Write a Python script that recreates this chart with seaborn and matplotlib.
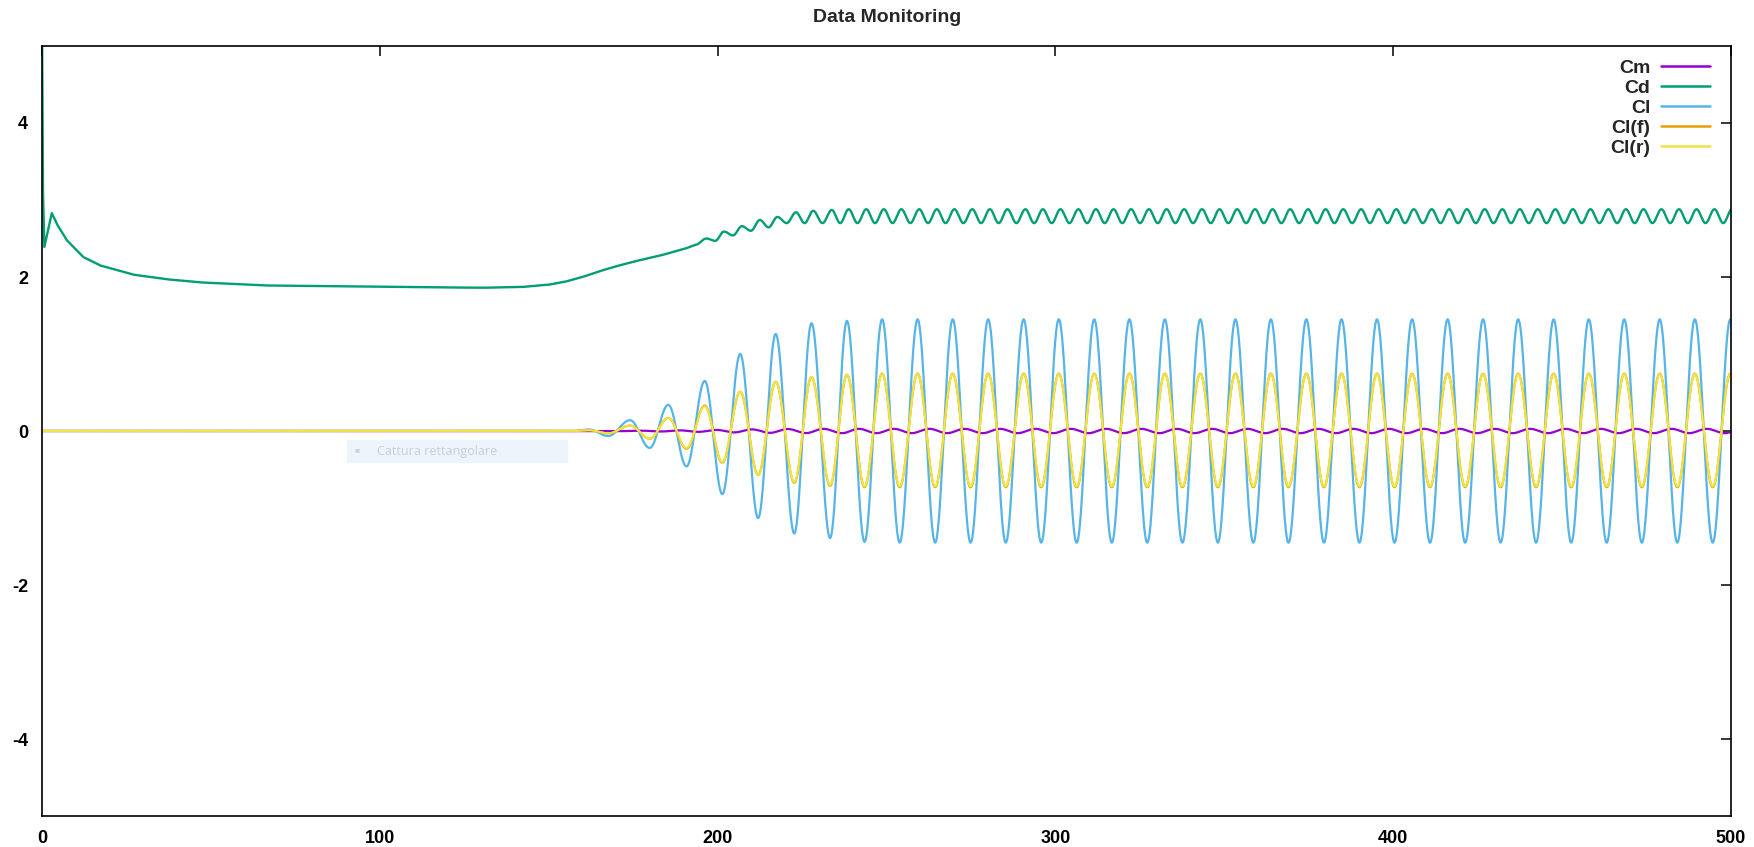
import numpy as np
import pandas as pd
import matplotlib
matplotlib.use("Agg")
import matplotlib.pyplot as plt
from matplotlib.lines import Line2D
from matplotlib.patches import Rectangle
import seaborn as sns

# ---------------- data ----------------
series_names = ["Cm", "Cd", "Cl", "Cl(f)", "Cl(r)"]
series_colors = ["#9400D3", "#009E73", "#56B4E9", "#E69F00", "#F0E442"]

x_ticks = [0, 100, 200, 300, 400, 500]
y_ticks = [-4, -2, 0, 2, 4]

# Cl extrema (time, value): growth phase then saturated oscillation
cl_t = [0.0, 157.0, 162.0, 167.6, 174.1, 179.9, 185.4, 190.8, 196.2, 201.4, 206.7,
        212.0, 217.2, 222.7, 227.8, 233.3, 238.3, 243.5,
        248.7, 253.9, 259.2, 264.4, 269.6, 274.9, 280.1, 285.3, 290.6, 295.8,
        301.0, 306.3, 311.5, 316.7, 321.9, 327.2, 332.4, 337.6, 342.9, 348.1,
        353.3, 358.6, 363.8, 369.0, 374.3, 379.5, 384.7, 390.0, 395.2, 400.4,
        405.6, 410.9, 416.1, 421.3, 426.6, 431.8, 437.0, 442.3, 447.5, 452.7,
        457.9, 463.2, 468.4, 473.6, 478.9, 484.1, 489.3, 494.6, 499.8]
cl_v = [0.0, 0.0, 0.02, -0.065, 0.14, -0.22, 0.34, -0.46, 0.65, -0.82, 1.00,
        -1.13, 1.26, -1.33, 1.40, -1.39, 1.43, -1.44] + [1.45, -1.45] * 24 + [1.45]

clr_v = [0.0, 0.0, 0.01, -0.03, 0.07, -0.10, 0.17, -0.22, 0.32, -0.40, 0.51,
         -0.57, 0.64, -0.66, 0.70, -0.70, 0.73, -0.72] + [0.74, -0.72] * 24 + [0.74]
clf_v = [0.0, 0.0, 0.01, -0.03, 0.07, -0.10, 0.17, -0.23, 0.33, -0.41, 0.51,
         -0.57, 0.64, -0.67, 0.70, -0.71, 0.73, -0.73] + [0.745, -0.73] * 24 + [0.745]

# Cm: small oscillation, lagging Cl extrema
cm_lag = 3.5
cm_v = [0.0, 0.0, 0.0, -0.002, 0.004, -0.006, 0.008, -0.011, 0.014, -0.018, 0.021,
        -0.024, 0.026, -0.027, 0.028, -0.028, 0.028, -0.028] + [0.028, -0.028] * 24 + [0.028]

# Cd: slow part
cd_base_t = [0.0, 0.3, 0.7, 2.9, 4.5, 7.3, 12.2, 17.2, 27.1, 37.0, 46.8, 66.0,
             100.0, 130.0, 142.0, 150.0, 155.0, 160.0, 165.4, 170.0, 175.2, 180.0,
             184.0, 187.1, 190.5, 193.5]
cd_base_v = [5.3, 3.1, 2.39, 2.83, 2.68, 2.48, 2.26, 2.15, 2.03, 1.97, 1.93, 1.89,
             1.875, 1.86, 1.87, 1.90, 1.94, 2.00, 2.08, 2.14, 2.20, 2.25,
             2.29, 2.33, 2.37, 2.42]
# Cd ripple (twice the Cl frequency): peaks near each Cl extremum from t=196
cd_lag = 0.5
cd_peak_v = [2.50, 2.59, 2.66, 2.74, 2.78, 2.84, 2.86, 2.87, 2.88, 2.88] + [2.88] * 49
cd_trough_v = [2.47, 2.54, 2.60, 2.645, 2.70, 2.70, 2.70, 2.70, 2.70, 2.70] + [2.70] * 48


# ---------------- build curves ----------------
def through_extrema(tn, vn, grid):
    tn = np.asarray(tn, float)
    vn = np.asarray(vn, float)
    idx = np.clip(np.searchsorted(tn, grid, side="right") - 1, 0, len(tn) - 2)
    frac = np.clip((grid - tn[idx]) / (tn[idx + 1] - tn[idx]), 0, 1)
    w = (1 - np.cos(np.pi * frac)) / 2
    return vn[idx] + (vn[idx + 1] - vn[idx]) * w


t = np.linspace(0, 500, 10001)
cl_t_arr = np.array(cl_t)

cl = through_extrema(cl_t, cl_v, t)
clr = through_extrema(cl_t, clr_v, t)
clf = through_extrema(cl_t, clf_v, t)
cm_nodes = np.concatenate([[0.0, 150.0], cl_t_arr[2:] + cm_lag])
cm = through_extrema(cm_nodes, [0.0] + cm_v[1:], t)

osc_ext = cl_t_arr[cl_t_arr >= 196.0]
osc_t, osc_v = [cd_base_t[-1]], [cd_base_v[-1]]
for i, te in enumerate(osc_ext):
    osc_t.append(te + cd_lag)
    osc_v.append(cd_peak_v[i])
    if i < len(osc_ext) - 1:
        osc_t.append((te + osc_ext[i + 1]) / 2 + cd_lag)
        osc_v.append(cd_trough_v[i])
cd = np.where(t <= cd_base_t[-1], np.interp(t, cd_base_t, cd_base_v),
              through_extrema(osc_t, osc_v, t))

curves = {"Cm": cm, "Cd": cd, "Cl": cl, "Cl(f)": clf, "Cl(r)": clr}
df = pd.concat([pd.DataFrame({"t": t, "value": curves[n], "series": n}) for n in series_names],
               ignore_index=True)

# ---------------- plot ----------------
sns.set_style("white")
plt.rcParams["font.family"] = ["Liberation Sans", "DejaVu Sans"]
plt.rcParams["axes.unicode_minus"] = False

W, H = 1754, 847
fig = plt.figure(figsize=(W / 100, H / 100), dpi=100)
ax = fig.add_axes([42 / W, 1 - 816 / H, (1731 - 42) / W, (816 - 46) / H])

sns.lineplot(data=df, x="t", y="value", hue="series", hue_order=series_names,
             palette=dict(zip(series_names, series_colors)), estimator=None,
             sort=False, legend=False, ax=ax, linewidth=1.6)
widths = {"Cm": 1.6, "Cd": 1.7, "Cl": 1.6, "Cl(f)": 1.6, "Cl(r)": 1.5}
for line, name in zip(ax.lines, series_names):
    line.set_linewidth(widths[name])

ax.set_xlim(0, 500)
ax.set_ylim(-5, 5)
ax.set_xticks(x_ticks)
ax.set_yticks(y_ticks)
ax.set_xlabel("")
ax.set_ylabel("")
ax.tick_params(direction="in", length=7, width=1.1, top=True, right=True,
               labelsize=13, colors="black")
ax.tick_params(axis="x", pad=10)
ax.tick_params(axis="y", pad=10)
for lab in ax.get_xticklabels() + ax.get_yticklabels():
    lab.set_fontweight("bold")
for sp in ax.spines.values():
    sp.set_visible(True)
    sp.set_color("black")
    sp.set_linewidth(1.2)
ax.grid(False)

handles = [Line2D([], [], color=c, lw=1.8) for c in series_colors]
leg = ax.legend(handles, series_names, loc="upper right", bbox_to_anchor=(0.9954, 1.0),
                frameon=False, markerfirst=False, handlelength=2.5, handletextpad=0.55,
                labelspacing=0.12, borderaxespad=0.3,
                prop={"family": "Liberation Sans", "weight": "bold", "size": 14})

fig.text(887 / W, 1 - 18 / H, "Data Monitoring", ha="center", va="center",
         fontsize=14, fontweight="bold")

# faint screen-capture tooltip visible in the reference
fig.patches.append(Rectangle((347 / W, 1 - 462 / H), 220 / W, 22 / H,
                             transform=fig.transFigure, color="#EEF4FB", zorder=5))
fig.text(357 / W, 1 - 451 / H, "\u25a0", ha="center", va="center", fontsize=6,
         color="#C9D3DE", zorder=6)
fig.text(377 / W, 1 - 451 / H, "Cattura rettangolare", ha="left", va="center",
         fontsize=9, color="#C8CED5", family="Open Sans", zorder=6)

fig.savefig("out.png", dpi=100)
